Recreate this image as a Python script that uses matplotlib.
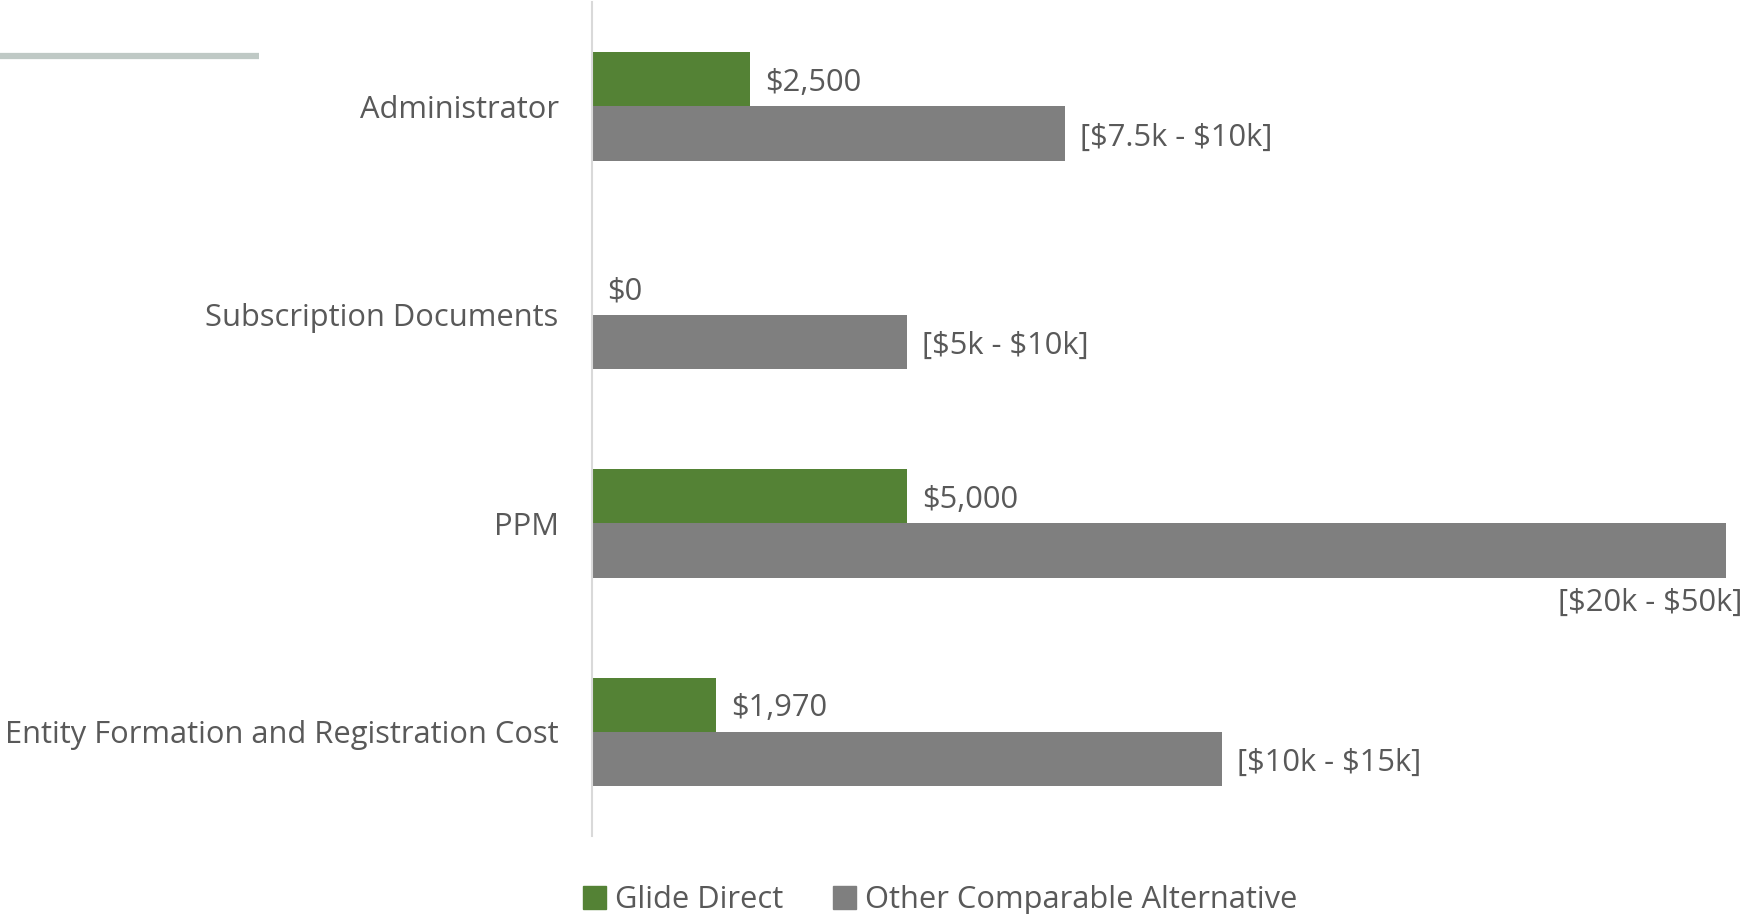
import numpy as np
import matplotlib
matplotlib.use("Agg")
from matplotlib import pyplot as plt
from matplotlib.lines import Line2D
from matplotlib.patches import Patch

categories = ["Administrator", "Subscription Documents", "PPM",
              "Entity Formation and Registration Cost"]
glide = [2500, 0, 5000, 1970]
other = [7500, 5000, 20000, 10000]
glide_labels = [r"\$2,500", r"\$0", r"\$5,000", r"\$1,970"]
other_labels = [r"[\$7.5k - \$10k]", r"[\$5k - \$10k]", r"[\$20k - \$50k]", r"[\$10k - \$15k]"]

GREEN = "#548235"
GRAY = "#7f7f7f"
TEXT = "#595959"
FS = 22.2

plt.rcParams["font.family"] = ["Open Sans", "DejaVu Sans"]

fig = plt.figure(figsize=(17.48, 9.14), dpi=100)
ax = fig.add_axes([0.3387, 0.0853, 0.9874 - 0.3387, 0.9976 - 0.0853])

y = np.arange(len(categories))
h = 0.26
ax.barh(y - h / 2, glide, height=h, color=GREEN)
ax.barh(y + h / 2, other, height=h, color=GRAY)

xmax = 18000
ax.set_xlim(0, xmax)
ax.set_ylim(len(categories) - 0.5, -0.5)

for i, (g, lab) in enumerate(zip(glide, glide_labels)):
    ax.annotate(lab, (g, i - h / 2), xytext=(11, -2.5), textcoords="offset points",
                va="center", ha="left", fontsize=FS, color=TEXT)
for i, (o, lab) in enumerate(zip(other, other_labels)):
    if o > xmax:
        ax.annotate(lab, (xmax, i + h), xytext=(12, -7.5), textcoords="offset points",
                    va="top", ha="right", fontsize=FS, color=TEXT,
                    annotation_clip=False)
    else:
        ax.annotate(lab, (o, i + h / 2), xytext=(11, -3), textcoords="offset points",
                    va="center", ha="left", fontsize=FS, color=TEXT)

ax.set_yticks(y)
ax.set_yticklabels(categories, fontsize=FS, color=TEXT)
ax.tick_params(axis="y", length=0, pad=24)
ax.set_xticks([])
for s in ["top", "right", "bottom"]:
    ax.spines[s].set_visible(False)
ax.spines["left"].set_color("#d9d9d9")
ax.spines["left"].set_linewidth(1.5)

# decorative line top-left
fig.add_artist(Line2D([0, 259 / 1748], [1 - 56 / 914, 1 - 56 / 914],
                      color="#bfc9c5", linewidth=4.5, solid_capstyle="butt"))

handles = [Patch(color=GREEN, label="Glide Direct"),
           Patch(color=GRAY, label="Other Comparable Alternative")]
fig.legend(handles=handles, loc="center", bbox_to_anchor=(0.538, 1 - 900 / 914),
           ncol=2, frameon=False, fontsize=FS, labelcolor=TEXT,
           handlelength=0.75, handleheight=0.75, handletextpad=0.3, columnspacing=1.6)

fig.savefig("out.png", dpi=100)
